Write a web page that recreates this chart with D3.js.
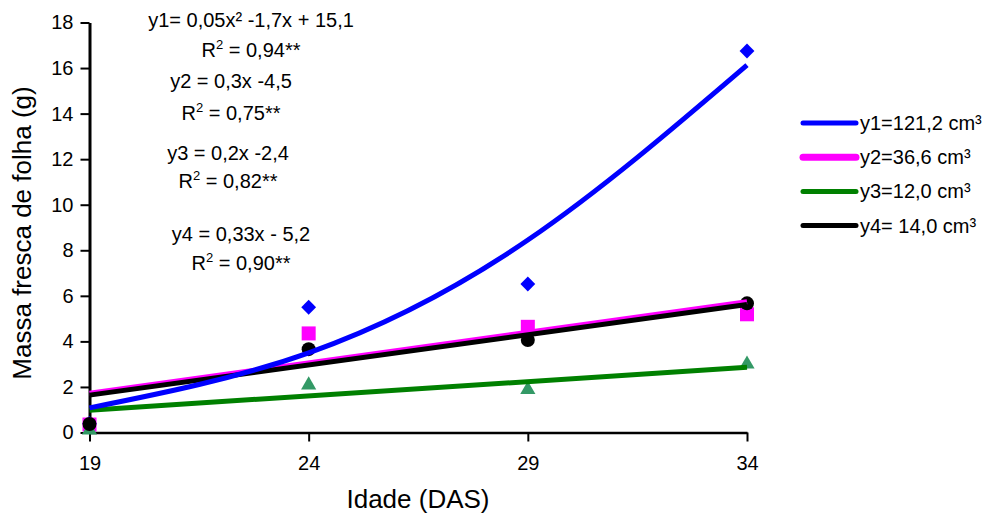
<!DOCTYPE html>
<html>
<head>
<meta charset="utf-8">
<script src="https://cdn.jsdelivr.net/npm/d3@7"></script>
<style>
  body { margin: 0; background: #fff; }
  svg { font-family: "Liberation Sans", Arial, sans-serif; }
</style>
</head>
<body>
<svg id="chart" width="989" height="520"></svg>
<script>
// idade (DAS) and observed leaf fresh mass per container volume
const idade = [19, 24, 29, 34];
const y1Obs = [0.4, 5.5, 6.52, 16.75];
const y2Obs = [0.35, 4.35, 4.64, 5.19];
const y3Obs = [0.1, 2.08, 1.88, 3.0];
const y4Obs = [0.37, 3.66, 4.06, 5.67];

// fitted trend values
const y1Fit = [1.08, 3.5, 8.45, 16.13];
const linX = [19, 34];
const y2Fit = [1.72, 5.74];
const y3Fit = [0.98, 2.86];
const y4Fit = [1.64, 5.62];

const xTicks = [19, 24, 29, 34];
const yTicks = [0, 2, 4, 6, 8, 10, 12, 14, 16, 18];
const legendLabels = ["y1=121,2 cm³", "y2=36,6 cm³", "y3=12,0 cm³", "y4= 14,0 cm³"];
const equations = [
  { txt: "y1= 0,05x² -1,7x + 15,1", r2: "0,94**" },
  { txt: "y2 = 0,3x -4,5", r2: "0,75**" },
  { txt: "y3 = 0,2x -2,4", r2: "0,82**" },
  { txt: "y4 = 0,33x - 5,2", r2: "0,90**" }
];

const svg = d3.select("#chart");
const x = d3.scaleLinear().domain([19, 34]).range([89.5, 747]);
const y = d3.scaleLinear().domain([0, 18]).range([432.5, 22.5]);

// axes
const xAxis = svg.append("g")
  .attr("transform", `translate(0,${y(0)})`)
  .call(d3.axisBottom(x).tickValues(xTicks).tickSize(9).tickPadding(14).tickSizeOuter(0));
xAxis.select(".domain").attr("stroke-width", 2.5);
xAxis.selectAll(".tick line").attr("stroke-width", 2);
xAxis.selectAll("text").attr("font-size", 20).attr("fill", "#000");

const yAxis = svg.append("g")
  .attr("transform", `translate(${x(19)},0)`)
  .call(d3.axisLeft(y).tickValues(yTicks).tickSize(9).tickPadding(7).tickSizeOuter(0));
yAxis.select(".domain").attr("stroke-width", 3);
yAxis.selectAll(".tick line").attr("stroke-width", 2);
yAxis.selectAll("text").attr("font-size", 20).attr("fill", "#000");

svg.append("text")
  .attr("x", 418).attr("y", 508)
  .attr("text-anchor", "middle")
  .attr("font-size", 26)
  .text("Idade (DAS)");

svg.append("text")
  .attr("transform", "translate(31,233) rotate(-90)")
  .attr("text-anchor", "middle")
  .attr("font-size", 26)
  .text("Massa fresca de folha (g)");

// markers
const pts = (vals) => idade.map((d, i) => ({ x: d, y: vals[i] }));

svg.append("g").selectAll("path")
  .data(pts(y1Obs)).join("path")
  .attr("d", d3.symbol(d3.symbolSquare, 110))
  .attr("transform", d => `translate(${x(d.x)},${y(d.y)}) rotate(45)`)
  .attr("fill", "#0000ff");

svg.append("g").selectAll("rect")
  .data(pts(y2Obs)).join("rect")
  .attr("x", d => x(d.x) - 7).attr("y", d => y(d.y) - 7)
  .attr("width", 14).attr("height", 14)
  .attr("fill", "#ff00ff");

svg.append("g").selectAll("path")
  .data(pts(y3Obs)).join("path")
  .attr("d", d3.symbol(d3.symbolTriangle, 100))
  .attr("transform", d => `translate(${x(d.x)},${y(d.y)})`)
  .attr("fill", "#339966");

svg.append("g").selectAll("circle")
  .data(pts(y4Obs)).join("circle")
  .attr("cx", d => x(d.x)).attr("cy", d => y(d.y))
  .attr("r", 7)
  .attr("fill", "#000");

// trend lines
const line = d3.line().x(d => x(d.x)).y(d => y(d.y));
const linPts = (vals) => linX.map((d, i) => ({ x: d, y: vals[i] }));

svg.append("path").datum(linPts(y2Fit))
  .attr("d", line).attr("fill", "none").attr("stroke", "#ff00ff").attr("stroke-width", 5);
svg.append("path").datum(linPts(y4Fit))
  .attr("d", line).attr("fill", "none").attr("stroke", "#000").attr("stroke-width", 5);
svg.append("path").datum(linPts(y3Fit))
  .attr("d", line).attr("fill", "none").attr("stroke", "#008000").attr("stroke-width", 5);
svg.append("path").datum(pts(y1Fit))
  .attr("d", line.curve(d3.curveNatural)).attr("fill", "none").attr("stroke", "#0000ff").attr("stroke-width", 5);

// equations
const eqPos = [
  { cx: 251, y1: 27, y2: 57 },
  { cx: 231, y1: 88, y2: 120 },
  { cx: 228, y1: 160, y2: 188 },
  { cx: 241, y1: 241, y2: 270 }
];
equations.forEach((e, i) => {
  const p = eqPos[i];
  svg.append("text")
    .attr("x", p.cx).attr("y", p.y1)
    .attr("text-anchor", "middle").attr("font-size", 20)
    .text(e.txt);
  const t = svg.append("text")
    .attr("x", p.cx).attr("y", p.y2)
    .attr("text-anchor", "middle").attr("font-size", 20);
  t.append("tspan").text("R");
  t.append("tspan").attr("font-size", 13).attr("dy", -8).text("2");
  t.append("tspan").attr("dy", 8).text(" = " + e.r2);
});

// legend
const legendColors = ["#0000ff", "#ff00ff", "#008000", "#000"];
const legendWidths = [5, 7, 5, 5];
const lg = svg.append("g");
legendLabels.forEach((lab, i) => {
  const ly = 123 + i * 34.2;
  lg.append("line")
    .attr("x1", 803).attr("x2", 856).attr("y1", ly).attr("y2", ly)
    .attr("stroke", legendColors[i]).attr("stroke-width", legendWidths[i])
    .attr("stroke-linecap", "round");
  lg.append("text")
    .attr("x", 860).attr("y", ly + 7)
    .attr("font-size", 20)
    .text(lab);
});
</script>
</body>
</html>
